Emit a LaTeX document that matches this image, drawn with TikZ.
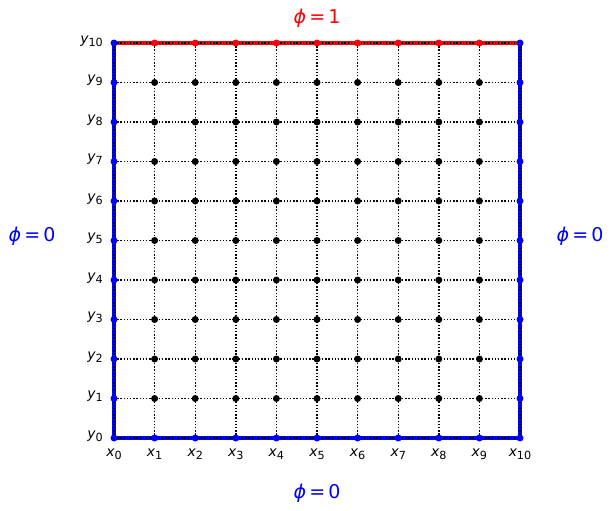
\documentclass[tikz,border=0pt]{standalone}
\usepackage{fontspec}
\setmainfont{DejaVu Sans}
\newcommand{\lbl}[2]{{\itshape #1}\raisebox{-0.22em}{\fontsize{11.2}{12}\selectfont #2}}
\newcommand{\bc}[1]{{\itshape ϕ}\,=\,#1}
\definecolor{mblue}{RGB}{0,0,255}
\definecolor{mred}{RGB}{255,0,0}
\tikzset{
  gridline/.style={black,line width=1.4pt,dash pattern=on 1.4pt off 1.8pt},
  bline/.style={line width=3.2pt},
  dotk/.style={circle,fill=black,inner sep=0pt,minimum size=7pt},
  dotb/.style={circle,fill=mblue,inner sep=0pt,minimum size=7pt},
  dotr/.style={circle,fill=mred,inner sep=0pt,minimum size=7pt},
  tick/.style={inner sep=0pt,font=\fontsize{13.9}{15}\selectfont},
  bclabel/.style={inner sep=0pt,font=\fontsize{19}{21}\selectfont}
}
\begin{document}
\begin{tikzpicture}[x=1pt,y=-1pt]
\useasboundingbox (0,0) rectangle (613,511);
% grid coordinates
\foreach \i in {0,...,10}{
  \foreach \j in {0,...,10}{
    \coordinate (P\i-\j) at ({114+\i*40.6},{438-\j*39.5});
  }
}
% coloured boundaries
\draw[bline,mblue] (P0-10) -- (P0-0) -- (P10-0) -- (P10-10);
\draw[bline,mred] (P0-10) -- (P10-10);
% dotted grid lines
\foreach \k in {0,...,10}{
  \draw[gridline] (P\k-0) -- (P\k-10);
  \draw[gridline] (P0-\k) -- (P10-\k);
}
% interior points
\foreach \i in {1,...,9}{
  \foreach \j in {1,...,9}{
    \node[dotk] (D\i-\j) at (P\i-\j) {};
  }
}
% boundary points
\foreach \j in {0,...,10}{
  \node[dotb] (L\j) at (P0-\j) {};
  \node[dotb] (R\j) at (P10-\j) {};
}
\foreach \i in {1,...,9}{
  \node[dotb] (B\i) at (P\i-0) {};
  \node[dotr] (T\i) at (P\i-10) {};
}
% tick labels
\foreach \k in {0,...,10}{
  \node[tick,anchor=east] (YL\k) at ([xshift=-11pt,yshift=2pt]P0-\k) {\lbl{y}{\k}};
  \node[tick] (XL\k) at ([yshift=-16pt]P\k-0) {\lbl{x}{\k}};
}
% boundary condition labels
\node[bclabel,text=mred] (top) at (317,18) {\bc{1}};
\node[bclabel,text=mblue] (bottom) at (317,493) {\bc{0}};
\node[bclabel,text=mblue] (left) at (32,236) {\bc{0}};
\node[bclabel,text=mblue] (right) at (580,236) {\bc{0}};
\end{tikzpicture}
\end{document}
